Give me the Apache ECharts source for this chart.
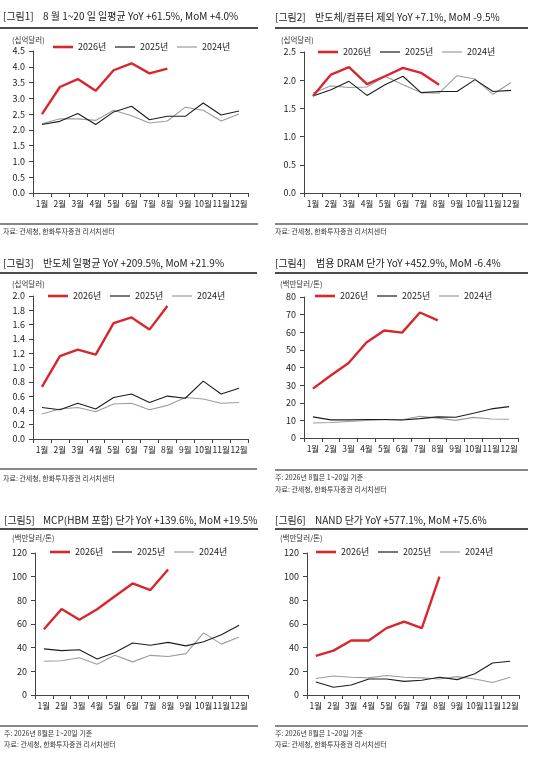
<!DOCTYPE html>
<html><head><meta charset="utf-8">
<script src="https://cdn.jsdelivr.net/npm/echarts@6/dist/echarts.min.js"></script>
<style>html,body{margin:0;padding:0;background:#fff}#c{width:538px;height:764px}</style>
</head><body><div id="c"></div>
<script>
// ---------- DATA ----------
const months = ['1월','2월','3월','4월','5월','6월','7월','8월','9월','10월','11월','12월'];
const seriesNames = ['2026년','2025년','2024년'];

const p1Title = '8 월 1~20 일 일평균 YoY +61.5%, MoM +4.0%';
const p1_2026 = [2.50, 3.36, 3.61, 3.24, 3.89, 4.11, 3.79, 3.94];
const p1_2025 = [2.17, 2.27, 2.52, 2.17, 2.57, 2.75, 2.32, 2.43, 2.43, 2.85, 2.47, 2.60];
const p1_2024 = [2.19, 2.35, 2.35, 2.30, 2.62, 2.45, 2.22, 2.28, 2.72, 2.62, 2.28, 2.50];

const p2Title = '반도체/컴퓨터 제외 YoY +7.1%, MoM -9.5%';
const p2_2026 = [1.72, 2.10, 2.23, 1.93, 2.07, 2.22, 2.13, 1.92];
const p2_2025 = [1.72, 1.83, 1.98, 1.73, 1.92, 2.07, 1.78, 1.80, 1.80, 2.01, 1.80, 1.82];
const p2_2024 = [1.77, 1.90, 1.87, 1.88, 2.07, 1.92, 1.78, 1.77, 2.08, 2.02, 1.75, 1.96];

const p3Title = '반도체 일평균 YoY +209.5%, MoM +21.9%';
const p3_2026 = [0.73, 1.16, 1.25, 1.18, 1.62, 1.70, 1.53, 1.86];
const p3_2025 = [0.44, 0.41, 0.50, 0.42, 0.58, 0.63, 0.51, 0.60, 0.57, 0.81, 0.63, 0.71];
const p3_2024 = [0.35, 0.42, 0.44, 0.38, 0.49, 0.50, 0.41, 0.47, 0.58, 0.56, 0.50, 0.51];

const p4Title = '범용 DRAM 단가 YoY +452.9%, MoM -6.4%';
const p4_2026 = [28.0, 35.5, 42.6, 54.2, 61.0, 59.8, 71.2, 66.7];
const p4_2025 = [12.0, 10.3, 10.3, 10.5, 10.5, 10.2, 11.0, 12.0, 11.8, 14.0, 16.5, 17.8];
const p4_2024 = [8.5, 8.8, 9.4, 9.9, 10.4, 10.4, 12.3, 11.3, 10.0, 11.7, 10.8, 10.6];

const p5Title = 'MCP(HBM 포함) 단가 YoY +139.6%, MoM +19.5%';
const p5_2026 = [55.5, 72.7, 63.6, 72.5, 83.5, 94.3, 88.7, 106.0];
const p5_2025 = [39.0, 37.5, 38.3, 30.5, 36.0, 44.0, 42.0, 44.5, 41.5, 45.0, 51.0, 59.0];
const p5_2024 = [28.5, 29.0, 31.5, 26.0, 33.5, 28.0, 33.5, 32.5, 35.0, 52.5, 43.0, 49.0];

const p6Title = 'NAND 단가 YoY +577.1%, MoM +75.6%';
const p6_2026 = [33.0, 37.5, 46.0, 46.0, 56.5, 62.0, 56.5, 100.0];
const p6_2025 = [11.0, 6.5, 8.5, 13.5, 13.5, 11.5, 12.5, 15.0, 13.0, 18.0, 27.0, 28.5];
const p6_2024 = [14.0, 16.0, 15.0, 14.5, 16.5, 15.0, 14.5, 13.5, 15.5, 13.5, 10.5, 15.0];

const unitA = '(십억달러)';
const unitB = '(백만달러/톤)';
const noteText = '주: 2026년 8월은 1~20일 기준';
const sourceText = '자료: 관세청, 한화투자증권 리서치센터';

// y-axis scales: [max, interval, decimals]
const p1Scale = [4.5, 0.5, 1];
const p2Scale = [2.5, 0.5, 1];
const p3Scale = [2.0, 0.2, 1];
const p4Scale = [80, 10, 0];
const p5Scale = [120, 20, 0];
const p6Scale = [120, 20, 0];

// ---------- LAYOUT ----------
const panels = [
  {n:1, title:p1Title, d:[p1_2026,p1_2025,p1_2024], s:p1Scale, unit:unitA, note:false,
   g:{left:33,top:51,width:215,height:142}, x0:0, x1:258, bx:3, tx:43, ty:16, ly:28, ux:12, uy:40, lgx:53, lgy:47, sy:224, srcy:231},
  {n:2, title:p2Title, d:[p2_2026,p2_2025,p2_2024], s:p2Scale, unit:unitA, note:false,
   g:{left:304,top:52,width:216,height:141}, x0:275, x1:528, bx:275, tx:315, ty:17, ly:28, ux:281, uy:40, lgx:318, lgy:52, sy:224, srcy:231},
  {n:3, title:p3Title, d:[p3_2026,p3_2025,p3_2024], s:p3Scale, unit:unitA, note:false,
   g:{left:33,top:296,width:215,height:143}, x0:0, x1:257, bx:3, tx:43, ty:263, ly:273, ux:12, uy:284, lgx:48, lgy:296, sy:469, srcy:478},
  {n:4, title:p4Title, d:[p4_2026,p4_2025,p4_2024], s:p4Scale, unit:unitB, note:true,
   g:{left:304,top:297,width:214,height:141}, x0:275, x1:528, bx:275, tx:316, ty:263, ly:273, ux:280, uy:284, lgx:315, lgy:296, sy:470, ny:477, srcy:489},
  {n:5, title:p5Title, d:[p5_2026,p5_2025,p5_2024], s:p5Scale, unit:unitB, note:true,
   g:{left:35,top:553,width:213,height:142}, x0:0, x1:258, bx:4, tx:43, ty:520, ly:529, ux:12, uy:538, lgx:50, lgy:552, sy:726, ny:733, srcy:744},
  {n:6, title:p6Title, d:[p6_2026,p6_2025,p6_2024], s:p6Scale, unit:unitB, note:true,
   g:{left:307,top:553,width:212,height:142}, x0:275, x1:528, bx:275, tx:315, ty:520, ly:529, ux:280, uy:538, lgx:316, lgy:552, sy:726, ny:733, srcy:744}
];

const FONT = '"Noto Sans CJK KR", "Noto Sans", sans-serif';
const colors = ['#d8262d', '#1e1e1e', '#9c9c9c'];
const widths = [2.4, 1.1, 1.1];
const legendStep = 62;

const grid = [], xAxis = [], yAxis = [], series = [], legend = [], graphic = [];
function txt(x, y, text, size, color, align) {
  graphic.push({type:'text', x:x, y:y, silent:true,
    style:{text:text, fill:color||'#222', fontSize:size, fontFamily:FONT, align:align||'left', verticalAlign:'middle'}});
}
function hline(x0, x1, y, w) {
  graphic.push({type:'line', silent:true, shape:{x1:x0, y1:y, x2:x1, y2:y}, style:{stroke:'#111', lineWidth:w}});
}

panels.forEach((p, i) => {
  grid.push(Object.assign({containLabel:false}, p.g));
  xAxis.push({type:'category', gridIndex:i, data:months, boundaryGap:true,
    axisLine:{lineStyle:{color:'#444', width:1}}, axisTick:{show:true, length:4, lineStyle:{color:'#444'}},
    axisLabel:{interval:0, fontSize:8.5, color:'#222', fontFamily:FONT, margin:7}, splitLine:{show:false}});
  yAxis.push({type:'value', gridIndex:i, min:0, max:p.s[0], interval:p.s[1],
    axisLine:{show:true, lineStyle:{color:'#444', width:1}}, axisTick:{show:true, length:4, lineStyle:{color:'#444'}},
    axisLabel:{fontSize:9, color:'#222', fontFamily:FONT, margin:8, formatter:v => v.toFixed(p.s[2])},
    splitLine:{show:false}});
  p.d.forEach((arr, k) => {
    series.push({type:'line', name:seriesNames[k], xAxisIndex:i, yAxisIndex:i, data:arr,
      symbol:'none', showSymbol:false, smooth:false, z: 3 - k,
      lineStyle:{color:colors[k], width:widths[k]}, itemStyle:{color:colors[k]}});
    legend.push({data:[{name:seriesNames[k], icon:'rect', itemStyle:{color:colors[k]}}],
      left:p.lgx + k * legendStep, top:p.lgy - 6, itemWidth:20, itemHeight:widths[k] + (k === 0 ? 0.2 : 0.1),
      itemGap:0, textStyle:{fontSize:9, color:'#222', fontFamily:FONT, lineHeight:12}, padding:0, selectedMode:false});
  });

  txt(p.bx, p.ty, '[그림' + p.n + ']', 10);
  txt(p.tx, p.ty, p.title, 10);
  hline(p.x0, p.x1, p.ly, 1.3);
  txt(p.ux, p.uy, p.unit, 7.5, '#333');
  hline(p.x0, p.x1, p.sy, 1);
  if (p.note) txt(p.bx, p.ny, noteText, 7, '#333');
  txt(p.bx, p.srcy, sourceText, 7, '#333');
});

const chart = echarts.init(document.getElementById('c'), null, {renderer:'canvas'});
chart.setOption({backgroundColor:'#fff', animation:false, grid, xAxis, yAxis, series, legend, graphic});
</script></body></html>
